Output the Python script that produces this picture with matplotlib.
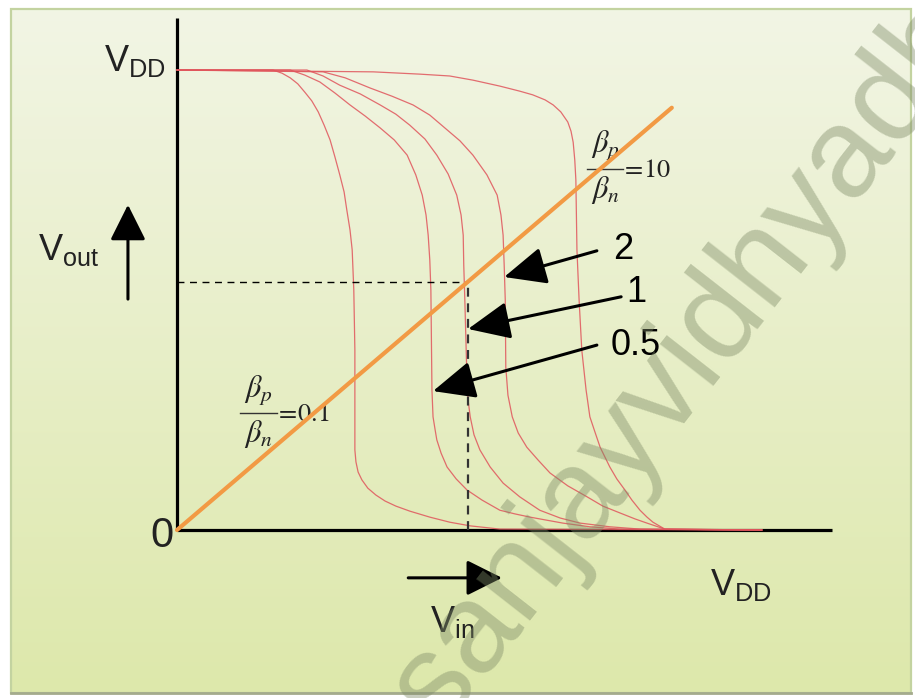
import numpy as np
import matplotlib
matplotlib.use("Agg")
import matplotlib.pyplot as plt
from matplotlib.patches import Rectangle

# ---------------- data (normalised: Vin/VDD, Vout/VDD) ----------------
ratios = ["0.1", "0.5", "1", "2", "10"]

vin_01 = [0, 0.178, 0.195, 0.210, 0.224, 0.237, 0.250, 0.262, 0.273, 0.284, 0.293,
          0.302, 0.310, 0.315, 0.321, 0.325, 0.328, 0.330, 0.330, 0.330, 0.332,
          0.336, 0.343, 0.354, 0.369, 0.386, 0.406, 0.432, 0.469, 0.506, 0.544,
          0.599, 1.085]
vout_01 = [1, 1, 0.993, 0.983, 0.970, 0.952, 0.933, 0.909, 0.880, 0.848, 0.811,
           0.772, 0.735, 0.696, 0.652, 0.609, 0.522, 0.391, 0.239, 0.174, 0.148,
           0.126, 0.109, 0.091, 0.076, 0.063, 0.052, 0.041, 0.028, 0.017, 0.009,
           0.002, 0]

vin_05 = [0, 0.210, 0.237, 0.265, 0.293, 0.321, 0.349, 0.377, 0.403, 0.427, 0.443,
          0.455, 0.462, 0.466, 0.469, 0.471, 0.473, 0.475, 0.479, 0.482, 0.490,
          0.501, 0.518, 0.538, 0.566, 0.599, 0.627, 0.655, 0.683, 0.716, 0.766,
          0.822, 1.085]
vout_05 = [1, 1, 0.989, 0.974, 0.950, 0.924, 0.900, 0.874, 0.848, 0.815, 0.772,
           0.728, 0.685, 0.641, 0.587, 0.522, 0.304, 0.246, 0.217, 0.196, 0.167,
           0.137, 0.111, 0.087, 0.065, 0.043, 0.035, 0.028, 0.022, 0.015, 0.007,
           0.002, 0]

vin_1 = [0, 0.241, 0.271, 0.302, 0.340, 0.377, 0.406, 0.432, 0.460, 0.482, 0.503,
         0.519, 0.527, 0.531, 0.532, 0.534, 0.538, 0.540, 0.544, 0.551, 0.562,
         0.581, 0.605, 0.636, 0.673, 0.711, 0.748, 0.803, 0.859, 1.085]
vout_1 = [1, 1, 0.987, 0.967, 0.948, 0.924, 0.904, 0.880, 0.850, 0.815, 0.774,
          0.728, 0.685, 0.641, 0.576, 0.500, 0.326, 0.283, 0.246, 0.207, 0.174,
          0.137, 0.102, 0.072, 0.043, 0.026, 0.015, 0.007, 0.002, 0]

vin_2 = [0, 0.271, 0.312, 0.358, 0.399, 0.438, 0.469, 0.497, 0.525, 0.549, 0.575,
         0.594, 0.601, 0.605, 0.607, 0.609, 0.610, 0.614, 0.622, 0.633, 0.649,
         0.670, 0.692, 0.725, 0.761, 0.790, 0.822, 0.850, 0.872, 0.905, 1.085]
vout_2 = [1, 0.996, 0.983, 0.961, 0.943, 0.924, 0.902, 0.874, 0.846, 0.815, 0.772,
          0.728, 0.685, 0.641, 0.576, 0.500, 0.354, 0.293, 0.246, 0.211, 0.180,
          0.152, 0.124, 0.096, 0.072, 0.052, 0.037, 0.024, 0.015, 0.002, 0]

vin_10 = [0, 0.364, 0.451, 0.506, 0.549, 0.599, 0.636, 0.660, 0.683, 0.698, 0.712,
          0.725, 0.731, 0.735, 0.738, 0.740, 0.742, 0.746, 0.751, 0.759, 0.766,
          0.776, 0.785, 0.803, 0.816, 0.831, 0.844, 0.859, 0.872, 0.883, 0.905, 1.085]
vout_10 = [1, 0.996, 0.991, 0.987, 0.978, 0.965, 0.954, 0.946, 0.935, 0.924, 0.909,
           0.887, 0.867, 0.843, 0.804, 0.761, 0.609, 0.500, 0.391, 0.304, 0.246,
           0.211, 0.180, 0.137, 0.111, 0.087, 0.065, 0.043, 0.028, 0.017, 0.002, 0]

unity_in = [0, 0.918]          # Vout = Vin line
unity_out = [0, 0.918]
vm = 0.54                      # switching threshold for beta ratio 1

# ---------------- figure ----------------
fig = plt.figure(figsize=(9.15, 6.98), dpi=100, facecolor="white")
ax = fig.add_axes([0, 0, 1, 1])
ax.set_xlim(-0.3284, 1.3692)
ax.set_ylim(-0.3652, 1.1522)
ax.axis("off")

# gradient background panel with frame
fx0, fx1, fy0, fy1 = -0.308, 1.362, -0.354, 1.133
t = np.linspace(0, 1, 256)[:, None]
top = np.array([0.949, 0.961, 0.898])
bot = np.array([0.867, 0.910, 0.670])
img = (top[None, None, :] * (1 - t[..., None]) + bot[None, None, :] * t[..., None])
ax.imshow(img, extent=[fx0, fx1, fy0, fy1], origin="upper", aspect="auto", zorder=0)
ax.add_patch(Rectangle((fx0, fy0), fx1 - fx0, fy1 - fy0, fill=False,
                       edgecolor="#c3d3a0", lw=1.6, zorder=1))
ax.plot([fx0, fx1], [fy0, fy0], color="#a4ab8c", lw=2, zorder=1)

# axes lines
ax.plot([0, 0], [0, 1.113], color="black", lw=2.3, zorder=3, solid_capstyle="butt")
ax.plot([0, 1.215], [0, 0], color="black", lw=2.3, zorder=3, solid_capstyle="butt")

# transfer curves
curves = [(vin_01, vout_01), (vin_05, vout_05), (vin_1, vout_1), (vin_2, vout_2), (vin_10, vout_10)]
for xs, ys in curves:
    ax.plot(xs, ys, color="#e0555c", lw=0.9, alpha=0.85, zorder=4,
            solid_joinstyle="round")

# dashed switching threshold guides
ax.plot([0, vm], [vm, vm], color="black", lw=1.0, ls=(0, (5, 4)), zorder=4)
ax.plot([vm, vm], [0, vm], color="#333333", lw=1.6, ls=(0, (4, 3)), zorder=4)

# beta ratio labels (drawn below the orange line), built as stacked fractions
serif_kw = dict(math_fontfamily="stix", color="#222222", zorder=5)


def beta_fraction(xc, ybar, half, value):
    ax.text(xc, ybar + 0.012, r"$\beta_p$", fontsize=22, ha="center", va="bottom", **serif_kw)
    ax.plot([xc - half, xc + half], [ybar, ybar], color="#333333", lw=1.0, zorder=5)
    ax.text(xc, ybar - 0.010, r"$\beta_n$", fontsize=22, ha="center", va="top", **serif_kw)
    ax.text(xc + half - 0.004, ybar - 0.017, r"$=\!" + value + "$", fontsize=19,
            ha="left", va="baseline", **serif_kw)


beta_fraction(0.794, 0.785, 0.034, "10")
beta_fraction(0.151, 0.254, 0.035, "0.1")

# Vout = Vin line
ax.plot(unity_in, unity_out, color="#f29a44", lw=3.0, zorder=6, solid_capstyle="round")

# arrows with ratio labels
arrow_kw = dict(arrowstyle="-|>,head_length=1.3,head_width=0.58", color="black",
                lw=2.2, mutation_scale=20, shrinkA=0, shrinkB=0)
ax.annotate("", xy=(0.607, 0.550), xytext=(0.779, 0.607), arrowprops=arrow_kw, zorder=7)
ax.annotate("", xy=(0.540, 0.437), xytext=(0.824, 0.507), arrowprops=arrow_kw, zorder=7)
ax.annotate("", xy=(0.475, 0.302), xytext=(0.779, 0.402), arrowprops=arrow_kw, zorder=7)
sans = "Liberation Sans"
ax.text(0.827, 0.609, "2", fontsize=26, family=sans, ha="center", va="center", zorder=7)
ax.text(0.853, 0.517, "1", fontsize=26, family=sans, ha="center", va="center", zorder=7)
ax.text(0.804, 0.402, "0.5", fontsize=26, family=sans, ha="left", va="center", zorder=7)

# axis direction arrows
ax_arrow_kw = dict(arrow_kw, arrowstyle="-|>,head_length=1.1,head_width=0.55")
ax.annotate("", xy=(-0.091, 0.707), xytext=(-0.091, 0.502), arrowprops=ax_arrow_kw, zorder=7)
ax.annotate("", xy=(0.603, -0.104), xytext=(0.429, -0.104), arrowprops=ax_arrow_kw, zorder=7)

# axis labels
ax.text(-0.135, 0.998, r"V$_\mathregular{DD}$", fontsize=26, family=sans, ha="left",
        va="baseline", color="#222222", zorder=7)
ax.text(-0.258, 0.587, r"V$_\mathregular{out}$", fontsize=26, family=sans, ha="left",
        va="baseline", color="#222222", zorder=7)
ax.text(-0.028, -0.013, "0", fontsize=30, family=sans, ha="center", va="center",
        color="#222222", zorder=7)
ax.text(0.989, -0.141, r"V$_\mathregular{DD}$", fontsize=26, family=sans, ha="left",
        va="baseline", color="#222222", zorder=7)
ax.text(0.469, -0.222, r"V$_\mathregular{in}$", fontsize=26, family=sans, ha="left",
        va="baseline", color="#222222", zorder=7)

# watermark
ax.text(0.490, -0.435, "sanjayvidhyadhar", fontsize=92, family=sans, rotation=52,
        rotation_mode="anchor", ha="left", va="baseline", color="#7d8a66", alpha=0.42,
        zorder=8, clip_on=True)

fig.savefig("out.png", dpi=100, facecolor="white")
